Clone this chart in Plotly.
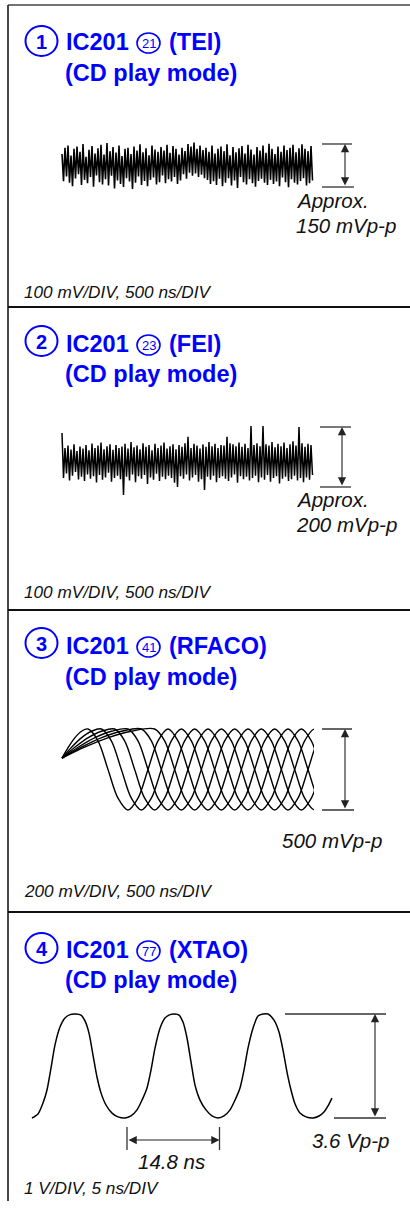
import plotly.graph_objects as go

W, H = 410, 1211

# ---------------- DATA ----------------
# Panel 1: IC201 pin 21 (TEI), noise samples in mV, one sample every 30 ns
tei_dt_ns = 30
tei_mv = [
    40, -55, 62, -38, 70, -60, 35, -72, 58, -45, 66, -30,
    48, -68, 75, -50, 30, -62, 55, -40, 68, -74, 42, -35,
    60, -58, 72, -66, 38, -48, 78, -70, 50, -36, 64, -80,
    45, -52, 70, -64, 33, -75, 58, -44, 62, -56, 40, -82,
    66, -60, 52, -38, 74, -68, 46, -54, 60, -72, 36, -50,
    70, -42, 56, -66, 48, -58, 64, -35, 52, -62, 72, -48,
    44, -56, 68, -40, 58, -64, 38, -52, 62, -30, 50, -46,
    75, -25, 66, -36, 80, -28, 58, -40, 70, -32, 54, -44,
    62, -50, 48, -64, 70, -55, 42, -68, 58, -46, 66, -72,
    50, -60, 74, -44, 36, -70, 64, -52, 46, -78, 60, -40,
    68, -58, 42, -66, 72, -48, 56, -62, 38, -74, 64, -54,
    52, -46, 70, -60, 44, -68, 76, -50, 58, -64, 40, -56,
    66, -72, 48, -42, 70, -58, 54, -76, 62, -48, 72, -60,
    46, -66, 60, -54, 74, -44, 58, -70, 50, -62, 68, -52,
]
tei_pp_mv = 150

# Panel 2: IC201 pin 23 (FEI), noise samples in mV, one sample every 30 ns
fei_dt_ns = 30
fei_mv = [
    80, -70, 30, -55, 38, -78, 25, -62, 42, -50, 20, -75,
    35, -66, 28, -80, 40, -58, 22, -72, 45, -64, 30, -85,
    38, -60, 48, -76, 26, -68, 36, -52, 42, -82, 24, -70,
    40, -62, 30, -74, 35, -127, 44, -66, 28, -78, 50, -58,
    32, -84, 38, -64, 26, -72, 46, -60, 34, -90, 40, -68,
    22, -76, 44, -56, 30, -80, 38, -66, 48, -74, 28, -62,
    36, -70, 42, -86, 26, -100, 40, -64, 34, -72, 46, -58,
    67, -78, 30, -68, 44, -60, 38, -82, 28, -74, 42, -110,
    34, -66, 50, -76, 36, -62, 44, -84, 30, -70, 40, -64,
    38, -72, 67, -80, 46, -68, 42, -58, 36, -86, 48, -64,
    34, -74, 44, -66, 30, -78, 103, -70, 40, -62, 46, -84,
    36, -68, 103, -76, 42, -60, 38, -82, 50, -70, 32, -64,
    44, -88, 36, -72, 48, -66, 30, -80, 42, -74, 52, -62,
    38, -78, 100, -70, 46, -84, 34, -68, 44, -76, 40, -60,
]
fei_pp_mv = 200

# Panel 3: IC201 pin 41 (RFACO) eye pattern.
# Every sweep starts at a common point and rises (stretched) to its first top,
# then follows the traced waveform (ns, mV) shifted by its sweep delay.
rfaco_tip_ns = 0
rfaco_tip_mv = 70
rfaco_rise_frac = [0.0, 0.25, 0.5, 0.75]
rfaco_rise_mv = [70, 139, 197, 236]
rfaco_t_ns = [520, 720, 920, 1120, 1320, 1520, 1720, 1920, 2120, 2320, 2520, 2720,
              2920, 3120, 3320, 3520, 3720, 3920, 4120, 4320, 4520, 4720, 4920,
              5120, 5320]
rfaco_mv = [250, 177, 0, -177, -250, -177, 0, 177, 250, 177, 0, -177,
            -250, -177, 0, 177, 250, 177, 0, -177, -250, -177, 0,
            177, 250]
rfaco_delay_ns = [0, 267, 533, 800, 1067, 1333]
rfaco_pp_mv = 500

# Panel 4: IC201 pin 77 (XTAO) waveform (ns, V)
xtao_t_ns = [0, 0.96, 1.76, 2.4, 3.04, 3.68, 4.48, 5.28, 6.08, 7.04, 7.84, 8.48,
             9.12, 9.76, 10.4, 11.04, 11.84, 12.8, 13.76, 14.88, 15.84, 16.8, 17.6,
             18.4, 19.04, 19.68, 20.48, 21.28, 22.08, 22.88, 23.52, 24.16, 24.8,
             25.44, 26.08, 26.88, 27.84, 28.8, 29.76, 30.72, 31.68, 32.48, 33.28,
             33.92, 34.56, 35.36, 36.16, 36.96, 37.76, 38.72, 39.52, 40.16, 40.8,
             41.44, 42.08, 42.88, 43.84, 44.96, 45.92, 46.72, 47.36, 48.0]
xtao_v = [-1.80, -1.66, -1.28, -0.83, -0.07, 0.73, 1.35, 1.66, 1.78, 1.80, 1.76, 1.56,
          1.14, 0.38, -0.38, -0.93, -1.35, -1.63, -1.76, -1.80, -1.73, -1.52, -1.18,
          -0.76, -0.14, 0.62, 1.31, 1.66, 1.78, 1.80, 1.76, 1.52, 0.97,
          0.14, -0.66, -1.18, -1.52, -1.73, -1.80, -1.73, -1.52, -1.18, -0.76,
          -0.14, 0.62, 1.31, 1.73, 1.80, 1.80, 1.59, 1.18, 0.55, -0.21,
          -0.83, -1.31, -1.63, -1.76, -1.80, -1.73, -1.59, -1.38, -1.11]
xtao_pp_v = 3.6
xtao_period_ns = 14.8

panel_no = ["1", "2", "3", "4"]
pin_no = ["21", "23", "41", "77"]
signal = ["TEI", "FEI", "RFACO", "XTAO"]
mode_text = "(CD play mode)"
amp_text = [["Approx.", "150 mVp-p"], ["Approx.", "200 mVp-p"], ["500 mVp-p"], ["3.6 Vp-p"]]
scale_text = ["100 mV/DIV, 500 ns/DIV", "100 mV/DIV, 500 ns/DIV",
              "200 mV/DIV, 500 ns/DIV", "1 V/DIV, 5 ns/DIV"]
period_text = "14.8 ns"

# ---------------- LAYOUT HELPERS ----------------
FONT = "Liberation Sans, Arial, sans-serif"
BLUE = "#0000ff"
INK = "#111111"


def px(x):
    return x / W


def py(y):
    return 1 - y / H


fig = go.Figure()
shapes = []
ann = []


def text(x, y, s, size, color=INK, xanchor="left"):
    ann.append(dict(x=px(x), y=py(y), xref="paper", yref="paper", text=s, showarrow=False,
                    xanchor=xanchor, yanchor="middle", font=dict(family=FONT, size=size, color=color),
                    borderpad=0, borderwidth=0))


def line_paper(x0, y0, x1, y1, width=1.5, color=INK):
    shapes.append(dict(type="line", xref="paper", yref="paper", x0=px(x0), x1=px(x1),
                       y0=py(y0), y1=py(y1), line=dict(color=color, width=width)))


def circle(cx, cy, rx, ry, width):
    shapes.append(dict(type="circle", xref="paper", yref="paper", x0=px(cx - rx), x1=px(cx + rx),
                       y0=py(cy + ry), y1=py(cy - ry), line=dict(color=BLUE, width=width)))


# Frame
line_paper(8, 5, 410, 5, 1.5, "#444444")
line_paper(8, 5, 8, 1201, 1.8, "#333333")
for ysep in [307, 610, 912]:
    line_paper(8, ysep, 410, ysep, 2, INK)

# Axes definitions: (x domain px, x range, y domain px (top,bottom), y range)
axes_def = [
    ((61, 315), (-20, 5060), (130, 201), (-123.8, 123.8)),
    ((61, 315), (-20, 5060), (407, 507), (-166.7, 166.7)),
    ((60, 314), (-40, 5040), (719.5, 819.5), (-308.6, 308.6)),
    ((28, 336), (-0.64, 48.64), (1006, 1126), (-2.077, 2.077)),
]
layout_axes = {}
for i, (xd, xr, yd, yr) in enumerate(axes_def):
    sfx = "" if i == 0 else str(i + 1)
    layout_axes["xaxis" + sfx] = dict(domain=[px(xd[0]), px(xd[1])], range=list(xr), visible=False,
                                      fixedrange=True, anchor="y" + sfx, showgrid=False, zeroline=False)
    layout_axes["yaxis" + sfx] = dict(domain=[py(yd[1]), py(yd[0])], range=list(yr), visible=False,
                                      fixedrange=True, anchor="x" + sfx, showgrid=False, zeroline=False)

# ---------------- TRACES ----------------
fig.add_trace(go.Scatter(x=[i * tei_dt_ns for i in range(len(tei_mv))], y=tei_mv, mode="lines",
                         line=dict(color="#000000", width=1.6), xaxis="x", yaxis="y", hoverinfo="skip"))
fig.add_trace(go.Scatter(x=[i * fei_dt_ns for i in range(len(fei_mv))], y=fei_mv, mode="lines",
                         line=dict(color="#000000", width=1.5), xaxis="x2", yaxis="y2", hoverinfo="skip"))
for d in rfaco_delay_ns:
    t_top = rfaco_t_ns[0] + d
    xs = [rfaco_tip_ns + f * (t_top - rfaco_tip_ns) for f in rfaco_rise_frac]
    xs += [t + d for t in rfaco_t_ns]
    ys = rfaco_rise_mv + rfaco_mv
    fig.add_trace(go.Scatter(x=xs, y=ys, mode="lines",
                             line=dict(color="#000000", width=1.4, shape="spline", smoothing=0.9),
                             xaxis="x3", yaxis="y3", hoverinfo="skip"))
fig.add_trace(go.Scatter(x=xtao_t_ns, y=xtao_v, mode="lines",
                         line=dict(color="#000000", width=1.5, shape="spline", smoothing=0.7),
                         xaxis="x4", yaxis="y4", hoverinfo="skip"))

# ---------------- TITLES ----------------
title_y = [(42, 73), (344, 374), (646, 677), (950, 980)]
circle_y = [41, 341, 643, 948]
for i in range(4):
    y1, y2 = title_y[i]
    circle(41.5, circle_y[i], 16, 15, 2)
    text(41.5, circle_y[i] + 0.5, "<b>%s</b>" % panel_no[i], 20, BLUE, "center")
    text(65.5, y1, "<b>IC201</b>", 23.5, BLUE)
    circle(148.5, y1 + 1, 11.5, 10, 1.6)
    text(148.5, y1 + 1.5, pin_no[i], 13, BLUE, "center")
    text(169, y1, "<b>(%s)</b>" % signal[i], 23.5, BLUE)
    text(64.5, y2, "<b>%s</b>" % mode_text, 23.5, BLUE)

# ---------------- AMPLITUDE MARKERS ----------------
markers = [
    ("y", tei_pp_mv / 2, (322, 352), (322, 354), 345),
    ("y2", fei_pp_mv / 2, (320, 351), (320, 351), 342),
    ("y3", rfaco_pp_mv / 2, (322, 352), (322, 354), 345),
    ("y4", xtao_pp_v / 2, (285, 386), (334, 386), 375),
]
for yref, half, top_x, bot_x, ax_x in markers:
    shapes.append(dict(type="line", xref="paper", yref=yref, x0=px(top_x[0]), x1=px(top_x[1]),
                       y0=half, y1=half, line=dict(color="#333333", width=1.3)))
    shapes.append(dict(type="line", xref="paper", yref=yref, x0=px(bot_x[0]), x1=px(bot_x[1]),
                       y0=-half, y1=-half, line=dict(color="#333333", width=1.3)))
    ann.append(dict(xref="paper", yref=yref, x=px(ax_x), y=half, axref="pixel", ax=0,
                    ayref=yref, ay=-half, text="", showarrow=True, arrowhead=2, arrowside="end+start",
                    arrowsize=1.5, arrowwidth=1.1, arrowcolor="#222222", standoff=0, startstandoff=0))

# Amplitude labels
AMP = 20.5
text(296, 200, "<i>%s</i>" % amp_text[0][0], AMP)
text(296, 225, "<i>%s</i>" % amp_text[0][1], AMP)
text(296, 500, "<i>%s</i>" % amp_text[1][0], AMP)
text(296, 525, "<i>%s</i>" % amp_text[1][1], AMP)
text(282, 840, "<i>%s</i>" % amp_text[2][0], AMP)
text(312, 1140, "<i>%s</i>" % amp_text[3][0], AMP)

# Scale labels
for i, ys in enumerate([292, 592, 891, 1188]):
    text(24, ys, "<i>%s</i>" % scale_text[i], 17.2)

# Period marker (panel 4)
mark_t0 = 15.2
mark_t1 = mark_t0 + xtao_period_ns
for t in (mark_t0, mark_t1):
    shapes.append(dict(type="line", xref="x4", yref="paper", x0=t, x1=t, y0=py(1150), y1=py(1127),
                       line=dict(color="#333333", width=1.3)))
ann.append(dict(xref="x4", yref="paper", x=mark_t1, y=py(1140), axref="x4", ax=mark_t0,
                ayref="pixel", ay=0, text="", showarrow=True, arrowhead=2, arrowside="end+start",
                arrowsize=1.5, arrowwidth=1.1, arrowcolor="#222222", standoff=0, startstandoff=0))
text(171.5, 1161, "<i>%s</i>" % period_text, AMP, INK, "center")

fig.update_layout(
    width=W, height=H, margin=dict(l=0, r=0, t=0, b=0, pad=0),
    paper_bgcolor="white", plot_bgcolor="rgba(0,0,0,0)", showlegend=False,
    shapes=shapes, annotations=ann, **layout_axes,
)

fig.write_html("out.html", config={"displayModeBar": False, "staticPlot": True},
               post_script="document.body.style.margin='0';document.body.style.overflow='hidden';")
